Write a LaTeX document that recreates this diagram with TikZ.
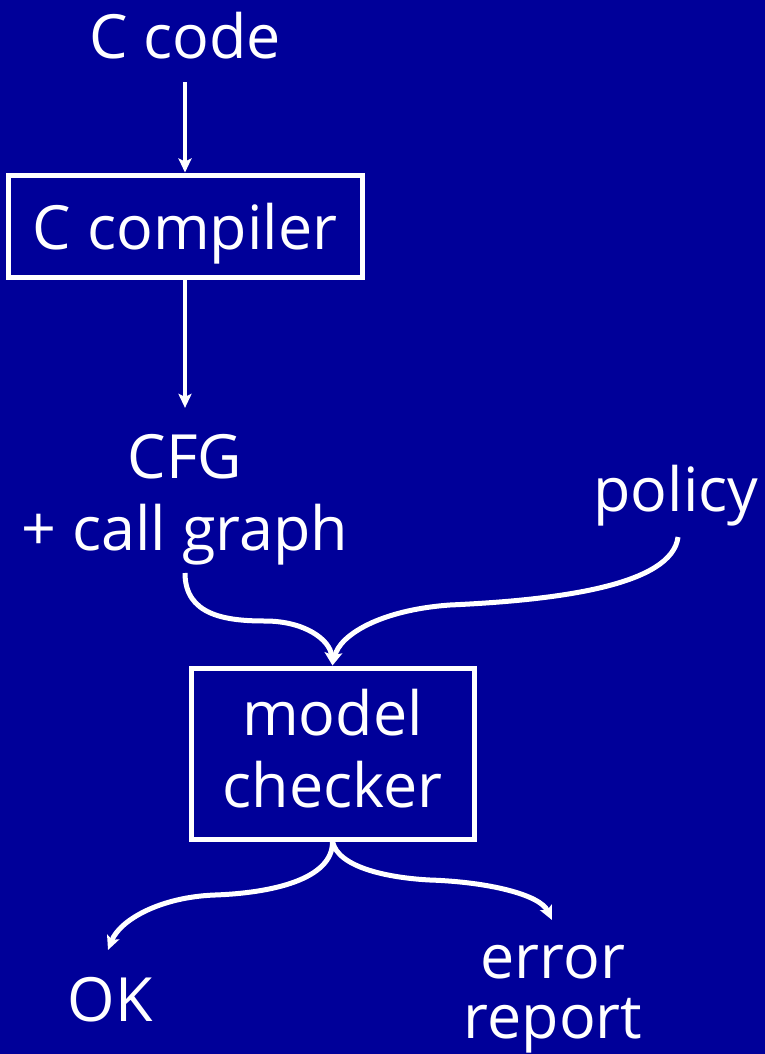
\documentclass[tikz,border=0pt]{standalone}
\usepackage{fontspec}
\setmainfont{Open Sans}
\usetikzlibrary{arrows.meta}
\definecolor{bg}{RGB}{0,0,153}
\begin{document}
\begin{tikzpicture}[x=1pt,y=-1pt,
  lbl/.style={text=white, font=\fontsize{61}{72}\selectfont, align=center, inner sep=0pt},
  boxed/.style={lbl, draw=white, line width=5pt, rectangle},
  conn/.style={draw=white, line width=5pt, -{Stealth[length=14pt,width=13pt,inset=3pt]}},
  straight/.style={conn, line width=4pt}]
\fill[bg] (0,0) rectangle (765,1054);
\useasboundingbox (0,0) rectangle (765,1054);
\node[lbl] (ccode) at (185,35.5) {C code};
\node[boxed, minimum width=354pt, minimum height=102pt, text depth=0pt] (cc) at (185,226) {C compiler};
\node[lbl] (cfg) at (185,499.5) {CFG\\+ call graph};
\node[lbl] (policy) at (676,496) {policy};
\node[boxed, minimum width=283pt, minimum height=171pt, text depth=11pt] (mc) at (332.5,753.5) {model\\checker};
\node[lbl] (ok) at (110,1000) {OK};
\node[lbl, font=\fontsize{61}{60}\selectfont] (err) at (553,999) {error\\report};
\coordinate (a1) at (185,573);
\coordinate (a2) at (678,537);
\coordinate (b1) at (108,950);
\coordinate (b2) at (552,920);
\draw[straight, shorten <=23pt] (ccode) -- (cc);
\draw[straight, shorten >=26pt] (cc) -- (cfg);
\draw[conn] (a1) .. controls (185,615) and (225,621) .. (265,621) .. controls (305,621) and (330,640) .. (mc.north);
\draw[conn] (a2) .. controls (672,585) and (560,600) .. (450,605) .. controls (380,610) and (340,635) .. (mc.north);
\draw[conn] (mc.south) .. controls (333,880) and (270,893) .. (215,895) .. controls (160,897) and (120,920) .. (b1);
\draw[conn] (mc.south) .. controls (338,868) and (390,878) .. (430,880) .. controls (490,882) and (540,895) .. (b2);
\end{tikzpicture}
\end{document}
